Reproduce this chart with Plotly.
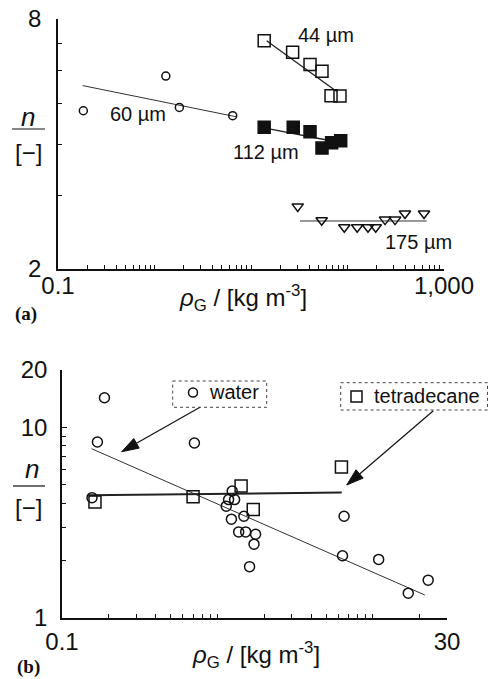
import math
import plotly.graph_objects as go

W, H = 489, 679

# ---------------- Panel (a) data ----------------
a60_x = [0.183, 1.31, 1.81, 6.46]
a60_y = [4.81, 5.83, 4.90, 4.68]
a44_x = [13.7, 27.0, 40.9, 54.4, 67.5, 83.6]
a44_y = [7.09, 6.65, 6.22, 5.99, 5.23, 5.22]
a112_x = [13.7, 27.4, 40.9, 54.4, 68.5, 85.0]
a112_y = [4.39, 4.39, 4.28, 3.91, 4.03, 4.07]
a175_x = [30.5, 54.0, 92.7, 126, 163, 196, 245, 311, 394, 621]
a175_y = [2.83, 2.62, 2.52, 2.52, 2.52, 2.52, 2.63, 2.63, 2.72, 2.72]

fit60_x, fit60_y = [0.18, 7.1], [5.53, 4.65]
fit44_x, fit44_y = [14.5, 77.3], [7.09, 5.35]
fit112_x, fit112_y = [14.5, 60.9], [4.36, 4.09]
fit175_x, fit175_y = [32.2, 661], [2.61, 2.61]

# ---------------- Panel (b) data ----------------
water_x = [0.156, 0.1876, 0.169, 0.711, 1.245, 1.18, 1.29, 1.14, 1.23, 1.48,
           1.37, 1.52, 1.76, 1.72, 1.61, 6.53, 6.38, 10.9, 16.9, 22.7]
water_y = [4.28, 14.3, 8.38, 8.28, 4.64, 4.18, 4.18, 3.86, 3.30, 3.42,
           2.83, 2.83, 2.75, 2.44, 1.86, 3.42, 2.12, 2.03, 1.35, 1.58]
tetra_x = [0.163, 0.697, 1.42, 1.70, 6.28]
tetra_y = [4.06, 4.32, 4.93, 3.71, 6.20]

fitw_x, fitw_y = [0.155, 21.6], [7.73, 1.32]
fitt_x, fitt_y = [0.148, 6.31], [4.40, 4.55]

# ticks: labelled (major) and unlabelled (minor)
a_xmajor, a_xlabels = [0.1, 1000], ["0.1", "1,000"]
a_xminor = [k * d for d in (0.1, 1, 10, 100) for k in range(1, 10)][1:]
a_ymajor, a_ylabels = [2, 8], ["2", "8"]
a_yminor = [3, 4, 5, 6, 7]
b_xmajor, b_xlabels = [0.1, 30], ["0.1", "30"]
b_xminor = [k * d for d in (0.1, 1, 10) for k in range(1, 10) if k * d < 30][1:]
b_ymajor, b_ylabels = [1, 10, 20], ["1", "10", "20"]
b_yminor = [2, 3, 4, 5, 6, 7, 8, 9]

FONT = "Liberation Sans, Arial, sans-serif"
BLACK = "#111111"

fig = go.Figure()


def mk(x, y, symbol, size, xa, ya, lw=1.5):
    fig.add_trace(go.Scatter(x=x, y=y, mode="markers", xaxis=xa, yaxis=ya,
                             cliponaxis=False,
                             marker=dict(symbol=symbol, size=size, color=BLACK,
                                         line=dict(color=BLACK, width=lw))))


def ln(x, y, xa, ya, w=1.0, color="#222222"):
    fig.add_trace(go.Scatter(x=x, y=y, mode="lines", xaxis=xa, yaxis=ya,
                             cliponaxis=False,
                             line=dict(color=color, width=w)))


# panel (a)
ln(fit60_x, fit60_y, "x", "y", 1.0, "#333333")
ln(fit44_x, fit44_y, "x", "y", 1.3)
ln(fit112_x, fit112_y, "x", "y", 1.3)
ln(fit175_x, fit175_y, "x", "y", 1.0, "#333333")
mk(a60_x, a60_y, "circle-open", 8, "x", "y")
mk(a44_x, a44_y, "square-open", 12, "x", "y")
mk(a112_x, a112_y, "square", 12, "x", "y")
mk(a175_x, a175_y, "triangle-down-open", 10, "x", "y")

# panel (b)
ln(fitw_x, fitw_y, "x2", "y2", 1.0, "#333333")
ln(fitt_x, fitt_y, "x2", "y2", 2.0)
mk(water_x, water_y, "circle-open", 10, "x2", "y2")
mk(tetra_x, tetra_y, "square-open", 12, "x2", "y2")


def axis(major, labels, minor, rng, domain, anchor, standoff):
    return dict(type="log", range=rng, domain=domain, anchor=anchor,
                showline=True, linecolor=BLACK, linewidth=1.5, mirror=False,
                showgrid=False, zeroline=False, ticks="inside", ticklen=5,
                tickcolor=BLACK, tickwidth=1, tickmode="array",
                tickvals=major, ticktext=labels,
                minor=dict(tickmode="array", tickvals=minor, ticks="inside",
                           ticklen=4, tickcolor=BLACK, tickwidth=1,
                           showgrid=False),
                tickfont=dict(family=FONT, size=24, color=BLACK),
                ticklabelstandoff=standoff, automargin=False, fixedrange=True)


fig.update_layout(
    width=W, height=H, margin=dict(l=0, r=0, t=0, b=0),
    paper_bgcolor="white", plot_bgcolor="white", showlegend=False,
    xaxis=axis(a_xmajor, a_xlabels, a_xminor, [-1, 3], [58 / W, 444 / W], "y", -6),
    yaxis=axis(a_ymajor, a_ylabels, a_yminor, [math.log10(2), math.log10(8)],
               [1 - 269 / H, 1 - 19 / H], "x", 10),
    xaxis2=axis(b_xmajor, b_xlabels, b_xminor, [-1, math.log10(30)],
                [62 / W, 447 / W], "y2", 1),
    yaxis2=axis(b_ymajor, b_ylabels, b_yminor, [0, math.log10(20)],
                [1 - 618 / H, 1 - 370 / H], "x2", 8),
)


def px(x):
    return x / W


def py(y):
    return 1 - y / H


annots = []


def txt(text, x, y, size=20, family=FONT, xanchor="center"):
    annots.append(dict(text=text, x=px(x), y=py(y), xref="paper", yref="paper",
                       showarrow=False, xanchor=xanchor, yanchor="middle",
                       font=dict(family=family, size=size, color=BLACK)))


# series labels (a)
txt("44 µm", 326, 35)
txt("60 µm", 138, 114)
txt("112 µm", 266, 152)
txt("175 µm", 418, 242)

# axis titles
xtitle = "<i>ρ</i><sub>G</sub> / [kg m<sup>-3</sup>]"
txt(xtitle, 243, 298, size=24)
txt(xtitle, 256, 655, size=24)
txt("<i>n</i>", 28, 117, size=26)
txt("[−]", 28, 152, size=24)
txt("<i>n</i>", 32, 469, size=26)
txt("[−]", 28, 507, size=24)

# panel labels
txt("<b>(a)</b>", 26, 314, size=19, family="Liberation Serif, serif")
txt("<b>(b)</b>", 28, 667, size=19, family="Liberation Serif, serif")

# legend texts (b)
txt("water", 207, 392, size=20, xanchor="left")
txt("tetradecane", 372, 396, size=20, xanchor="left")

fig.update_layout(annotations=annots)

shapes = []
# arrows (b): shaft + filled head, drawn as shapes in pixel-based paper coords
for (tx, ty, sx, sy) in [(121.7, 451.7, 200, 407.3), (346.7, 485, 433.3, 410.7)]:
    dx, dy = tx - sx, ty - sy
    L = math.hypot(dx, dy)
    ux, uy = dx / L, dy / L
    nx, ny = -uy, ux
    hl, hw = 17, 5.5
    bx, by = tx - hl * ux, ty - hl * uy
    shapes.append(dict(type="line", xref="paper", yref="paper",
                       x0=px(sx), y0=py(sy), x1=px(bx), y1=py(by),
                       line=dict(color=BLACK, width=1.2)))
    pts = [(tx, ty), (bx + hw * nx, by + hw * ny), (bx - hw * nx, by - hw * ny)]
    path = "M " + " L ".join(f"{px(a):.5f},{py(b):.5f}" for a, b in pts) + " Z"
    shapes.append(dict(type="path", xref="paper", yref="paper", path=path,
                       fillcolor=BLACK, line=dict(color=BLACK, width=1)))
# fraction bars of y titles
for yb, x0, x1 in [(129, 12, 45), (486, 13, 45)]:
    shapes.append(dict(type="line", xref="paper", yref="paper",
                       x0=px(x0), x1=px(x1), y0=py(yb), y1=py(yb),
                       line=dict(color=BLACK, width=1.2)))
# legend boxes
for x0, y0, x1, y1 in [(172.7, 381, 266.7, 407.3), (340.7, 382.7, 487.5, 410)]:
    shapes.append(dict(type="rect", xref="paper", yref="paper",
                       x0=px(x0), x1=px(x1), y0=py(y0), y1=py(y1),
                       line=dict(color="#444444", width=1, dash="dot")))
# legend symbols
shapes.append(dict(type="circle", xref="paper", yref="paper",
                   x0=px(188.5), x1=px(197.5), y0=py(388), y1=py(397),
                   line=dict(color=BLACK, width=1.5)))
shapes.append(dict(type="rect", xref="paper", yref="paper",
                   x0=px(351), x1=px(362), y0=py(391), y1=py(402),
                   line=dict(color=BLACK, width=1.5)))
fig.update_layout(shapes=shapes)

fig.write_html("out.html", config={"displayModeBar": False},
               post_script="document.body.style.margin='0';")
